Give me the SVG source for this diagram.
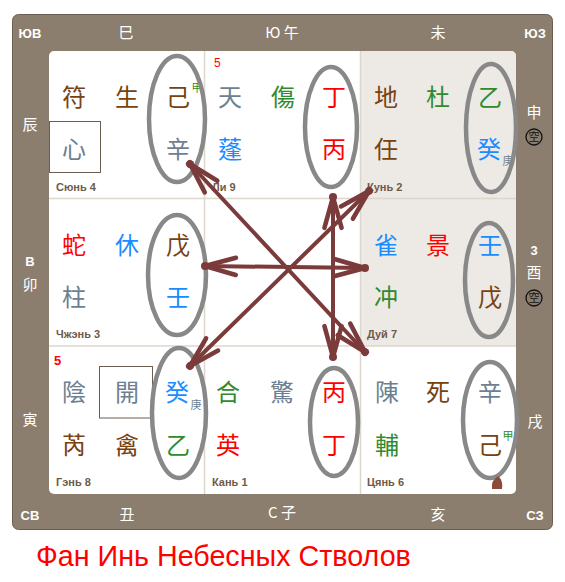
<svg xmlns="http://www.w3.org/2000/svg" width="565" height="582" viewBox="0 0 565 582">
<style>
.c{font-family:"Noto Sans CJK TC","Noto Sans CJK SC",sans-serif;font-size:24px;text-anchor:middle}
.s{font-family:"Noto Sans CJK TC","Noto Sans CJK SC",sans-serif;font-size:11px;text-anchor:middle}
.f{font-family:"Noto Sans CJK TC","Noto Sans CJK SC",sans-serif;font-size:15px;text-anchor:middle;fill:#fff}
.fl{font-family:"Liberation Sans",Arial,sans-serif;font-size:13px;font-weight:bold;text-anchor:middle;fill:#fff}
.lb{font-family:"Liberation Sans",Arial,sans-serif;font-size:11px;font-weight:bold;fill:#6e5b4a}
.br{fill:#77420f}.gr{fill:#6d7f91}.bl{fill:#1a8cff}.gn{fill:#2e8b2e}.rd{fill:#ff0000}
.el{fill:none;stroke:#888;stroke-width:4.5}
.ar{stroke:#7b3b3b;stroke-width:4;fill:none;stroke-linecap:round;marker-start:url(#ah);marker-end:url(#ah)}
.kc{fill:none;stroke:#111;stroke-width:1.3}
.kt{font-family:"Noto Sans CJK TC","Noto Sans CJK SC",sans-serif;font-size:11px;text-anchor:middle;fill:#111}
.bx{fill:none;stroke:#6b5d4f;stroke-width:1}
.dv{stroke:#ddd6cd;stroke-width:1.5}
</style>
<defs>
<marker id="ah" markerUnits="userSpaceOnUse" orient="auto-start-reverse" refX="0" refY="0" markerWidth="40" markerHeight="40" viewBox="-30 -15 35 30" overflow="visible">
<path d="M-27,-7.5 L0,0 L-27,7.5" fill="none" stroke="#7b3b3b" stroke-width="4" stroke-linecap="round" stroke-linejoin="round"/>
<circle cx="0" cy="0" r="3.5" fill="#7b3b3b"/>
</marker>
</defs>
<g id="frame">
<rect x="12.5" y="14.5" width="540" height="515" rx="6" fill="#8c7e6e" stroke="#6b5d4f" stroke-width="1"/>
<rect x="49" y="51" width="467" height="443" rx="5" fill="#fff"/>
<path d="M360.5,51 H511 A5,5 0 0 1 516,56 V346 H360.5 Z" fill="#ede9e4"/>
<line class="dv" x1="204.5" y1="51" x2="204.5" y2="494"/>
<line class="dv" x1="360.5" y1="51" x2="360.5" y2="494"/>
<line class="dv" x1="49" y1="198.5" x2="516" y2="198.5"/>
<line class="dv" x1="49" y1="346" x2="516" y2="346"/>
<text class="fl" x="30" y="38">ЮВ</text>
<text class="f" x="126" y="38">巳</text>
<text class="f" x="282" y="38">Ю 午</text>
<text class="f" x="438" y="38">未</text>
<text class="fl" x="535" y="38">ЮЗ</text>
<text class="f" x="30" y="130">辰</text>
<text class="fl" x="30" y="266">В</text>
<text class="f" x="30" y="290">卯</text>
<text class="f" x="30" y="425">寅</text>
<text class="f" x="534" y="118">申</text>
<circle class="kc" cx="534" cy="137" r="8"/>
<text class="kt" x="534" y="141">空</text>
<text class="fl" x="534" y="255">3</text>
<text class="f" x="534" y="278">酉</text>
<circle class="kc" cx="534" cy="298" r="8"/>
<text class="kt" x="534" y="302">空</text>
<text class="f" x="535" y="427">戌</text>
<text class="fl" x="30" y="520">СВ</text>
<text class="f" x="127" y="520">丑</text>
<text class="f" x="282" y="518">С 子</text>
<text class="f" x="438" y="520">亥</text>
<text class="fl" x="535" y="520">СЗ</text>
</g>
<g id="xun4">
<rect class="bx" x="49.5" y="121.5" width="51" height="51"/>
<text class="c br" x="74" y="106">符</text>
<text class="c br" x="127" y="106">生</text>
<text class="c br" x="178" y="106">己</text>
<text class="s gn" x="197" y="92">甲</text>
<text class="c gr" x="74" y="158">心</text>
<text class="c gr" x="178" y="158">辛</text>
<text class="lb" x="56" y="191">Сюнь 4</text>
<ellipse class="el" cx="177" cy="119" rx="28" ry="63"/>
</g>
<g id="li9">
<text x="214" y="67" font-family="Liberation Sans,Arial,sans-serif" font-size="12" fill="#ff0000">5</text>
<text class="c gr" x="230" y="106">天</text>
<text class="c gn" x="283" y="106">傷</text>
<text class="c rd" x="334" y="106">丁</text>
<text class="c bl" x="230" y="158">蓬</text>
<text class="c rd" x="334" y="158">丙</text>
<text class="lb" x="212" y="191">Ли 9</text>
<ellipse class="el" cx="331" cy="127" rx="26" ry="60"/>
</g>
<g id="kun2">
<text class="c br" x="386" y="106">地</text>
<text class="c gn" x="438" y="106">杜</text>
<text class="c gn" x="490" y="106">乙</text>
<text class="c br" x="386" y="158">任</text>
<text class="c bl" x="489" y="158">癸</text>
<text class="s gr" x="508" y="165">庚</text>
<text class="lb" x="367" y="191">Кунь 2</text>
<ellipse class="el" cx="491" cy="128" rx="25" ry="64"/>
</g>
<g id="zhen3">
<text class="c rd" x="74" y="254">蛇</text>
<text class="c bl" x="127" y="254">休</text>
<text class="c br" x="178" y="254">戊</text>
<text class="c gr" x="74" y="306">柱</text>
<text class="c bl" x="178" y="306">壬</text>
<text class="lb" x="56" y="338">Чжэнь 3</text>
<ellipse class="el" cx="177" cy="275" rx="29" ry="60"/>
</g>
<g id="dui7">
<text class="c bl" x="386" y="254">雀</text>
<text class="c rd" x="438" y="254">景</text>
<text class="c bl" x="490" y="254">壬</text>
<text class="c gn" x="386" y="306">冲</text>
<text class="c br" x="490" y="306">戊</text>
<text class="lb" x="367" y="338">Дуй 7</text>
<ellipse class="el" cx="489" cy="280" rx="24" ry="57"/>
</g>
<g id="gen8">
<text x="54" y="365" font-family="Liberation Sans,Arial,sans-serif" font-size="13" font-weight="bold" fill="#ff0000">5</text>
<rect class="bx" x="99.5" y="366.5" width="53" height="51.5"/>
<text class="c gr" x="74" y="401">陰</text>
<text class="c gr" x="127" y="401">開</text>
<text class="c bl" x="177" y="401">癸</text>
<text class="s gr" x="196" y="409">庚</text>
<text class="c br" x="74" y="454">芮</text>
<text class="c br" x="127" y="454">禽</text>
<text class="c gn" x="178" y="454">乙</text>
<text class="lb" x="56" y="486">Гэнь 8</text>
<ellipse class="el" cx="179" cy="413" rx="27" ry="65"/>
</g>
<g id="kan1">
<text class="c gn" x="228" y="401">合</text>
<text class="c gr" x="282" y="401">驚</text>
<text class="c rd" x="334" y="401">丙</text>
<text class="c rd" x="228" y="454">英</text>
<text class="c rd" x="334" y="454">丁</text>
<text class="lb" x="212" y="486">Кань 1</text>
<ellipse class="el" cx="334" cy="422" rx="24" ry="54"/>
</g>
<g id="qian6">
<text class="c gr" x="387" y="401">陳</text>
<text class="c br" x="438" y="401">死</text>
<text class="c gr" x="490" y="401">辛</text>
<text class="c gn" x="387" y="454">輔</text>
<text class="c br" x="490" y="454">己</text>
<text class="s gn" x="508" y="440">甲</text>
<text class="lb" x="367" y="486">Цянь 6</text>
<ellipse class="el" cx="490" cy="420" rx="27" ry="58"/>
<path d="M492,489 L492,485 Q492,481 496,478 L498,476 L500,478 Q503,482 502,489 Z" fill="#8b4a3a"/>
</g>
<g id="connectors">
<line class="ar" x1="190" y1="164" x2="365" y2="352"/>
<line class="ar" x1="190" y1="366" x2="369" y2="191"/>
<line class="ar" x1="205" y1="266" x2="365" y2="268"/>
<line class="ar" x1="333" y1="197" x2="333" y2="357"/>
</g>
<text x="36" y="566" font-family="Liberation Sans,Arial,sans-serif" font-size="28.7" fill="#ff0000">Фан Инь Небесных Стволов</text>
</svg>
